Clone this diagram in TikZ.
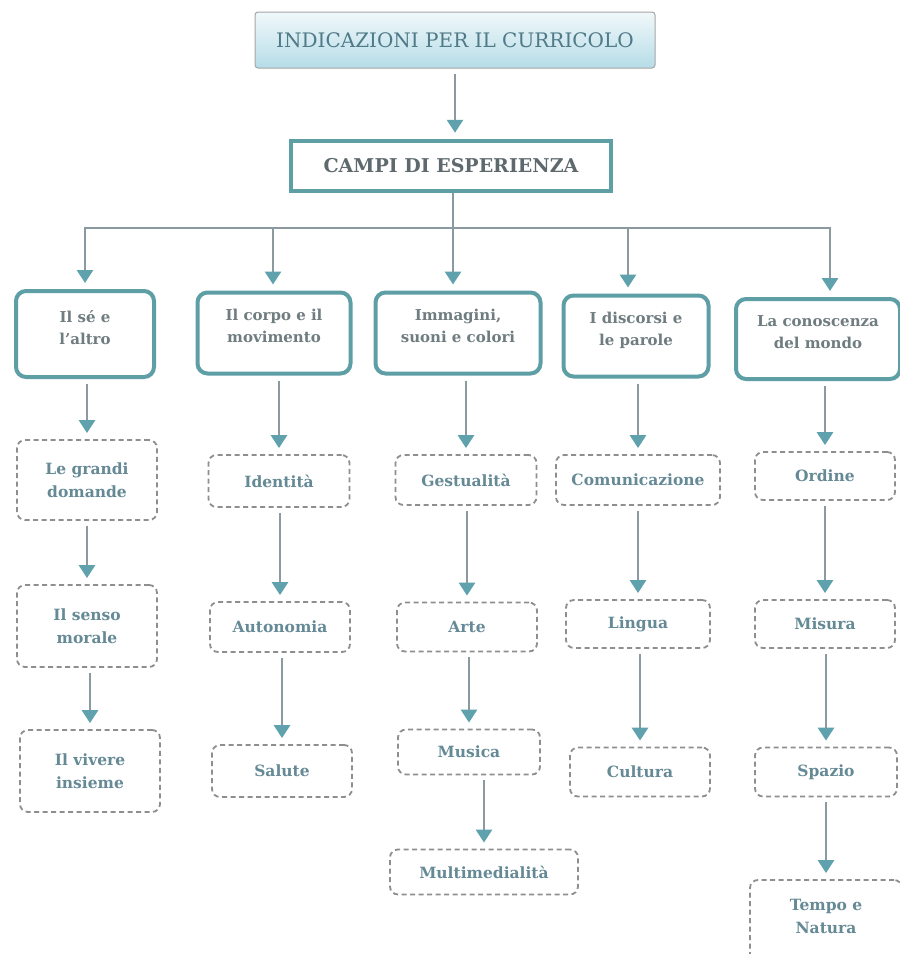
\documentclass[tikz,border=0pt]{standalone}
\usepackage{fontspec}
\setmainfont{DejaVu Serif}
\usetikzlibrary{arrows.meta,calc}
\definecolor{tealb}{HTML}{5E9FA6}
\definecolor{headteal}{HTML}{5FA2AD}
\definecolor{shaft}{HTML}{8A9AA0}
\definecolor{dashgrey}{HTML}{8E8E8E}
\definecolor{txtgrey}{HTML}{6F7C80}
\definecolor{txtteal}{HTML}{658A96}
\definecolor{titletxt}{HTML}{4F7A88}
\definecolor{topfill}{HTML}{B6DCE7}
\tikzset{
  mainbox/.style={draw=tealb, line width=4pt, rounded corners=10pt, fill=white,
    align=center, font=\bfseries\fontsize{15}{22}\selectfont, text=txtgrey, inner sep=0pt},
  subbox/.style={draw=dashgrey, line width=1.8pt, dash pattern=on 5pt off 3.5pt,
    rounded corners=8pt, fill=white, align=center,
    font=\bfseries\fontsize{15.5}{23}\selectfont, text=txtteal, inner sep=0pt},
  arr/.style={draw=shaft, line width=2.8pt,
    -{Triangle[width=16pt,length=13pt,color=headteal]},
    shorten <=5pt, shorten >=6pt},
  busline/.style={draw=shaft, line width=2.8pt},
}
\begin{document}
\begin{tikzpicture}[x=1pt,y=-1pt]
\useasboundingbox (0,0) rectangle (900,954);
\clip (0,0) rectangle (900,954);
\fill[white] (0,0) rectangle (900,954);

% top
\node[draw=gray!70, line width=1pt, rounded corners=3pt,
  top color=white!80!topfill, bottom color=topfill,
  minimum width=400pt, minimum height=56pt, inner sep=0pt,
  font=\fontsize{20}{24}\selectfont, text=titletxt] (top) at (455,40)
  {INDICAZIONI PER IL CURRICOLO};
\node[draw=tealb, line width=4.5pt, fill=white, minimum width=320pt,
  minimum height=50pt, inner sep=0pt, font=\bfseries\fontsize{19}{22}\selectfont,
  text=txtgrey!85!black] (campi) at (451,166) {CAMPI DI ESPERIENZA};

% level 1
\node[mainbox, minimum width=138pt, minimum height=86pt] (a0) at (85,334) {Il sé e\\l'altro\\[-8pt]\mbox{}};
\node[mainbox, minimum width=153pt, minimum height=81pt] (b0) at (274,333) {Il corpo e il\\movimento\\[-8pt]\mbox{}};
\node[mainbox, minimum width=165pt, minimum height=81pt] (c0) at (458,333) {Immagini,\\suoni e colori\\[-8pt]\mbox{}};
\node[mainbox, minimum width=145pt, minimum height=81pt] (d0) at (636,336) {I discorsi e\\le parole\\[-8pt]\mbox{}};
\node[mainbox, minimum width=164pt, minimum height=80pt] (e0) at (818,339) {La conoscenza\\del mondo\\[-8pt]\mbox{}};

% column 1
\node[subbox, minimum width=140pt, minimum height=80pt] (a1) at (87,480) {Le grandi\\domande};
\node[subbox, minimum width=140pt, minimum height=82pt] (a2) at (87,626) {Il senso\\morale};
\node[subbox, minimum width=140pt, minimum height=82pt] (a3) at (90,771) {Il vivere\\insieme};
% column 2
\node[subbox, minimum width=141pt, minimum height=52pt] (b1) at (279,481) {Identità};
\node[subbox, minimum width=140pt, minimum height=50pt] (b2) at (280,627) {Autonomia};
\node[subbox, minimum width=140pt, minimum height=52pt] (b3) at (282,771) {Salute};
% column 3
\node[subbox, minimum width=141pt, minimum height=50pt] (c1) at (466,480) {Gestualità};
\node[subbox, minimum width=140pt, minimum height=49pt] (c2) at (467,627) {Arte};
\node[subbox, minimum width=142pt, minimum height=45pt] (c3) at (469,752) {Musica};
\node[subbox, minimum width=188pt, minimum height=45pt] (c4) at (484,872) {Multimedialità};
% column 4
\node[subbox, minimum width=164pt, minimum height=50pt] (d1) at (638,480) {Comunicazione};
\node[subbox, minimum width=144pt, minimum height=48pt] (d2) at (638,624) {Lingua};
\node[subbox, minimum width=140pt, minimum height=49pt] (d3) at (640,772) {Cultura};
% column 5
\node[subbox, minimum width=140pt, minimum height=48pt] (e1) at (825,476) {Ordine};
\node[subbox, minimum width=140pt, minimum height=48pt] (e2) at (825,624) {Misura};
\node[subbox, minimum width=142pt, minimum height=49pt] (e3) at (826,772) {Spazio};
\node[subbox, minimum width=152pt, minimum height=92pt] (e4) at (826,926) {Tempo e\\Natura\\[-4pt]\mbox{}};

% connectors
\draw[arr] (top.south) -- (top.south |- campi.north);
\coordinate (busA) at (85,228);
\coordinate (busB) at (273,228);
\coordinate (busD) at (628,228);
\coordinate (busE) at (830,228);
\draw[busline] (busA) -- (busE);
\draw[arr, shorten <=0pt] (campi.south) ++(2,0) coordinate (cs) -- (cs |- c0.north);
\draw[arr, shorten <=-1.4pt] (busA) -- (busA |- a0.north);
\draw[arr, shorten <=-1.4pt] (busB) -- (busB |- b0.north);
\draw[arr, shorten <=-1.4pt] (busD) -- (busD |- d0.north);
\draw[arr, shorten <=-1.4pt] (busE) -- (busE |- e0.north);

\foreach \p/\q in {a0/a1,a1/a2,a2/a3,b0/b1,b1/b2,b2/b3,c0/c1,c1/c2,c2/c3,c3/c4,d0/d1,d1/d2,d2/d3,e0/e1,e1/e2,e2/e3,e3/e4}
  \draw[arr] (\q.north |- \p.south) -- (\q.north);
\end{tikzpicture}
\end{document}
